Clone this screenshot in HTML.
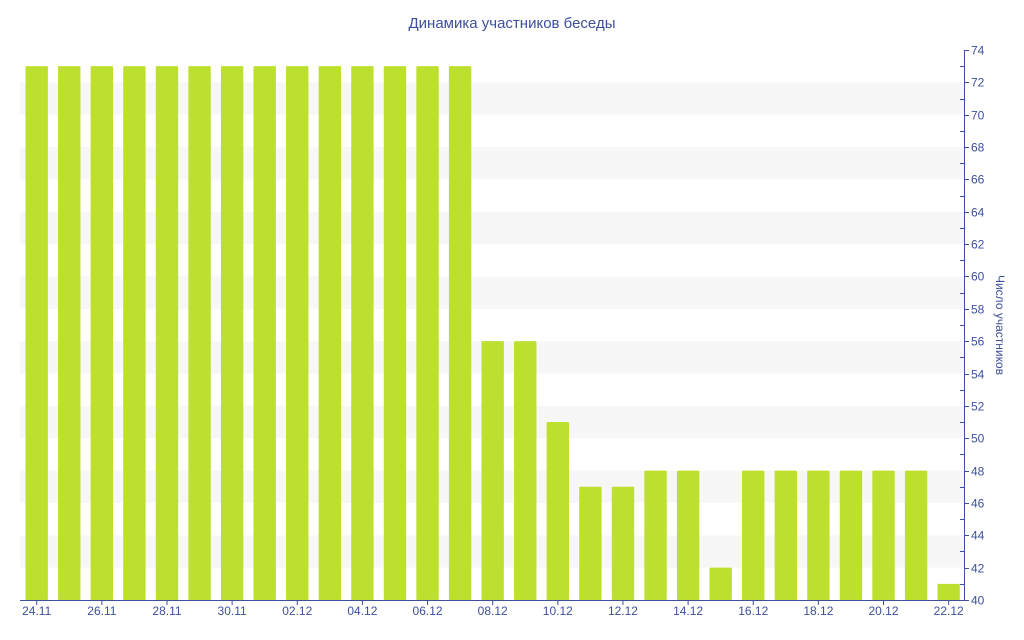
<!DOCTYPE html>
<html><head><meta charset="utf-8"><style>
html,body{margin:0;padding:0;background:#fff;}
svg{display:block;font-family:"Liberation Sans","DejaVu Sans",sans-serif;}
</style></head><body>
<svg id="c" width="1024" height="640" viewBox="0 0 1024 640" xmlns="http://www.w3.org/2000/svg">
<text x="512" y="28" text-anchor="middle" font-size="15" fill="#3d4f9e">Динамика участников беседы</text>
<g id="g"></g>
<text transform="translate(996,325) rotate(90)" text-anchor="middle" font-size="12" fill="#3d4f9e">Число участников</text>
</svg>
<script>
var g=document.getElementById('g'),s='';
function y(v){return 600-(v-40)*550/34;}
for(var b=42;b<=70;b+=4){s+='<rect x="20" y="'+y(b+2)+'" width="944" height="'+(y(b)-y(b+2))+'" fill="#f7f7f7"/>';}
var d=[73,73,73,73,73,73,73,73,73,73,73,73,73,73,56,56,51,47,47,48,48,42,48,48,48,48,48,48,41];
var lab=['24.11','26.11','28.11','30.11','02.12','04.12','06.12','08.12','10.12','12.12','14.12','16.12','18.12','20.12','22.12'];
for(var i=0;i<d.length;i++){var cx=36.7+i*32.57;s+='<rect x="'+(cx-11.2)+'" y="'+y(d[i])+'" width="22.4" height="'+(600-y(d[i]))+'" fill="#bde02e" rx="1"/>';
if(i%2==0){s+='<line x1="'+cx+'" y1="600" x2="'+cx+'" y2="605" stroke="#3d4f9e"/>';s+='<text x="'+cx+'" y="615" text-anchor="middle" font-size="12" fill="#3d4f9e">'+lab[i/2]+'</text>';}}
s+='<line x1="20" y1="600.5" x2="964" y2="600.5" stroke="#3d4f9e"/>';
s+='<line x1="964.5" y1="50" x2="964.5" y2="600" stroke="#3d4f9e"/>';
for(var v=40;v<=74;v++){var yy=Math.round(y(v))+0.5;if(v%2==0){s+='<line x1="964" y1="'+yy+'" x2="969" y2="'+yy+'" stroke="#3d4f9e"/><text x="971" y="'+(yy+4)+'" font-size="12" fill="#3d4f9e">'+v+'</text>';}else{s+='<line x1="960" y1="'+yy+'" x2="964" y2="'+yy+'" stroke="#3d4f9e"/>';}}
g.innerHTML=s;
</script>
</body></html>
